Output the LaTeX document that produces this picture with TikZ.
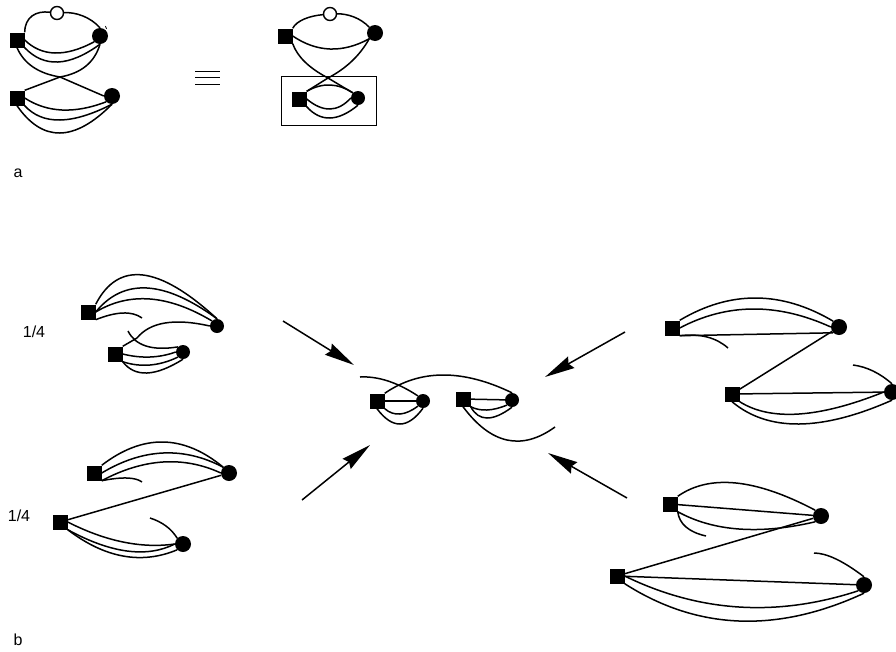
\documentclass[tikz,border=0pt]{standalone}
\usepackage{fontspec}
\setmainfont{Liberation Sans}
\usetikzlibrary{calc,arrows.meta}
\tikzset{
  sq/.style={rectangle,fill=black,inner sep=0pt,minimum size=15pt},
  smallsq/.style={rectangle,fill=black,inner sep=0pt,minimum size=15pt},
  dot/.style={circle,fill=black,inner sep=0pt,minimum size=16pt},
  smalldot/.style={circle,fill=black,inner sep=0pt,minimum size=14pt},
  opendot/.style={circle,draw=black,fill=white,line width=1.4pt,inner sep=0pt,minimum size=13pt},
  wire/.style={line width=1.5pt,black},
  flow/.style={line width=1.5pt,black,-{Stealth[length=30pt,width=13pt,inset=3pt]}},
  lab/.style={font=\fontsize{16}{18}\selectfont,inner sep=0pt}
}
% curve from #1 through the point #2 to #3
\newcommand{\wirevia}[3]{%
  \coordinate (Qtmp) at ($2*(#2)-0.5*(#1)-0.5*(#3)$);
  \draw[wire] (#1) .. controls ($(#1)!0.6667!(Qtmp)$) and ($(#3)!0.6667!(Qtmp)$) .. (#3);
}
\begin{document}
\begin{tikzpicture}[x=1pt,y=-1pt]
\useasboundingbox (0,0) rectangle (896,651);
\fill[white] (0,0) rectangle (896,651);

% ---- panel a, left
\node[sq] (s1) at (17,40) {};
\node[dot] (c1) at (100,36) {};
\node[sq] (s2) at (17,98) {};
\node[dot] (c2) at (112,96) {};
\node[opendot] (o1) at (57,13) {};
\wirevia{s1.north east}{33,16}{o1}
\wirevia{o1}{82,16}{c1.north}
\wirevia{s1.east}{55,53}{c1.south west}
\wirevia{s1.south east}{58,62}{c1.south}
\coordinate (xa) at (60,77);
\wirevia{s1.south}{33,67}{xa}
\wirevia{c1.south}{86,66}{xa}
\draw[wire] (xa) -- (s2.north east);
\draw[wire] (xa) -- (c2.west);
\wirevia{s2.east}{62,110}{c2.south west}
\wirevia{s2.south east}{60,120}{c2.south}
\wirevia{s2.south}{60,133}{c2.south}
\node[font=\fontsize{10}{12}\selectfont,inner sep=0pt] (tick) at (106,27.5) {\rotatebox{-70}{\rule{3pt}{0.8pt}}};

% equivalence sign
\coordinate (e1a) at (195,71); \coordinate (e1b) at (220,71);
\coordinate (e2a) at (195,77); \coordinate (e2b) at (220,77);
\coordinate (e3a) at (195,84); \coordinate (e3b) at (220,84);
\draw[line width=0.9pt] (e1a) -- (e1b);
\draw[line width=0.9pt] (e2a) -- (e2b);
\draw[line width=0.9pt] (e3a) -- (e3b);

% ---- panel a, right
\node[sq] (s3) at (285,36) {};
\node[dot] (c3) at (375,33) {};
\node[opendot] (o3) at (330,14) {};
\node[smallsq] (s4) at (299,99) {};
\node[smalldot] (c4) at (358,98) {};
\node[draw=black,line width=1.5pt,fill=none,inner sep=0pt,minimum width=95pt,minimum height=49pt] (box) at (329,101) {};
\wirevia{s3.north east}{305,19}{o3}
\wirevia{o3}{353,17}{c3.north west}
\wirevia{s3.east}{330,49}{c3.south west}
\coordinate (xb) at (328,78);
\wirevia{s3.south east}{305,62}{xb}
\wirevia{c3.south west}{352,61}{xb}
\draw[wire] (xb) -- (s4.north east);
\draw[wire] (xb) -- (c4.north west);
\wirevia{s4.north east}{330,85}{c4.north west}
\wirevia{s4.east}{330,109}{c4.west}
\wirevia{s4.south east}{330,118}{c4.south}

\node[lab] (la) at (18,173.5) {a};
\node[lab] (lb) at (18,640) {b};
\node[lab] (q1) at (34,332) {1/4};
\node[lab] (q2) at (19,516) {1/4};

% ---- panel b, upper left
\node[sq] (a1) at (88,312) {};
\node[smalldot] (a2) at (217,326) {};
\node[sq] (a3) at (115,354) {};
\node[smalldot] (a4) at (183,352) {};
\wirevia{a1.north east}{143,275}{a2.north}
\wirevia{a1.east}{147,288}{a2.north}
\wirevia{a1.east}{150,299}{a2.north west}
\coordinate (as) at (142,318);
\wirevia{a1.south east}{123,313}{as}
\coordinate (ae) at (137,338);
\wirevia{a2.west}{165,323}{ae}
\draw[wire] (ae) -- (a3.north east);
\coordinate (at) at (128,331);
\wirevia{at}{146,346}{a4.north west}
\wirevia{a3.east}{150,357}{a4.west}
\wirevia{a3.south east}{150,365}{a4.south west}
\wirevia{a3.south east}{147,373}{a4.south}

% ---- panel b, lower left
\node[sq] (b1) at (94,473) {};
\node[dot] (b2) at (229,473) {};
\node[sq] (b3) at (60,522) {};
\node[dot] (b4) at (183,544) {};
\wirevia{b1.north east}{163,442}{b2.north west}
\wirevia{b1.east}{163,453}{b2.north west}
\wirevia{b1.south east}{163,462}{b2.west}
\coordinate (bs) at (142,482);
\wirevia{b1.south east}{127,478}{bs}
\draw[wire] (b3) -- (b2);
\wirevia{b3.east}{123,542}{b4.west}
\wirevia{b3.south east}{127,551}{b4.west}
\wirevia{b3.south east}{123,556}{b4.south west}
\coordinate (bt) at (150,518);
\wirevia{bt}{166,526}{b4.north west}

% ---- panel b, centre
\node[smallsq] (m1) at (377,401) {};
\node[smalldot] (m2) at (423,401) {};
\node[smallsq] (m3) at (463,399) {};
\node[smalldot] (m4) at (512,400) {};
\draw[wire] (m1) -- (m2);
\draw[wire] (m3) -- (m4);
\wirevia{m1.south east}{400,414}{m2.south west}
\wirevia{m1.south}{400,424}{m2.south}
\wirevia{m3.south east}{487,410}{m4.south west}
\wirevia{m3.south east}{487,418}{m4.south}
\coordinate (mt) at (360,377);
\wirevia{mt}{388,381}{m2.north west}
\wirevia{m1.north east}{443,375}{m4.north}
\coordinate (mu) at (555,427);
\wirevia{m3.south}{507,440}{mu}

% ---- panel b, upper right
\node[sq] (r1) at (672,328) {};
\node[dot] (r2) at (839,327) {};
\node[sq] (r3) at (732,394) {};
\node[dot] (r4) at (892,392) {};
\wirevia{r1.north east}{756,298}{r2.north west}
\wirevia{r1.east}{753,309}{r2.west}
\draw[wire] (r1.south east) -- (r2.south west);
\coordinate (rs) at (728,348);
\wirevia{r1.south east}{707,337}{rs}
\draw[wire] (r2) -- (r3);
\draw[wire] (r3) -- (r4);
\wirevia{r3.south east}{799,414}{r4.west}
\wirevia{r3.south}{799,424}{r4.south}
\coordinate (rt) at (853,365);
\wirevia{rt}{873,371}{r4.north}

% ---- panel b, lower right
\node[sq] (u1) at (670,504) {};
\node[dot] (u2) at (821,516) {};
\node[sq] (u3) at (617,576) {};
\node[dot] (u4) at (864,585) {};
\wirevia{u1.north east}{736,483}{u2.north west}
\draw[wire] (u1) -- (u2);
\wirevia{u1.south east}{739,529}{u2.south west}
\coordinate (us) at (706,536);
\wirevia{u1.south east}{686,527}{us}
\draw[wire] (u3) -- (u2);
\draw[wire] (u3) -- (u4);
\wirevia{u3.east}{739,607}{u4.south west}
\wirevia{u3.south east}{739,621}{u4.south}
\coordinate (ut) at (814,553);
\wirevia{ut}{836,559}{u4.north}

% ---- arrows
\coordinate (f1a) at (283,321); \coordinate (f1b) at (354,365);
\coordinate (f2a) at (625,332); \coordinate (f2b) at (545,377);
\coordinate (f3a) at (302,500); \coordinate (f3b) at (370,445);
\coordinate (f4a) at (627,498); \coordinate (f4b) at (548,453);
\draw[flow] (f1a) -- (f1b);
\draw[flow] (f2a) -- (f2b);
\draw[flow] (f3a) -- (f3b);
\draw[flow] (f4a) -- (f4b);
\end{tikzpicture}
\end{document}
